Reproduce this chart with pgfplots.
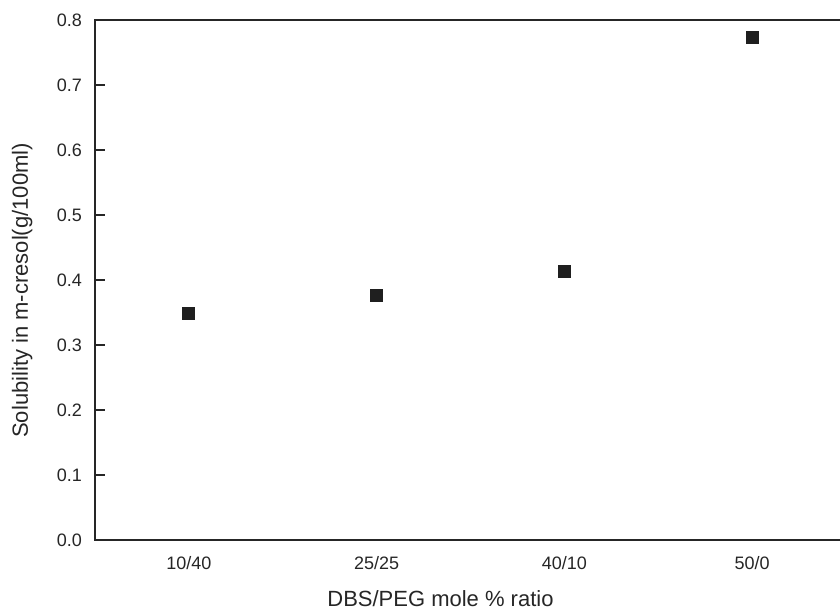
\documentclass[border=0pt]{standalone}
\usepackage{fontspec}
\setmainfont{Liberation Sans}
\usepackage{pgfplots}
\pgfplotsset{compat=1.18}

\begin{document}
\begin{tikzpicture}
\begin{axis}[
  name=ax,
  scale only axis,
  width=375.5pt, height=260pt,
  xmin=0.5, xmax=4.5,
  ymin=0, ymax=0.8,
  axis line style={line width=1pt, black!85},
  xtick={1,2,3,4},
  xticklabels={10/40,25/25,40/10,50/0},
  xtick style={draw=none},
  ytick={0,0.1,...,0.8},
  ytick pos=left,
  tick align=inside,
  major tick length=5pt,
  ytick style={draw=none},
  yticklabel style={xshift=-3pt, /pgf/number format/fixed, /pgf/number format/fixed zerofill, /pgf/number format/precision=1},
  /pgf/number format/assume math mode=true,
  tick label style={font=\fontsize{9}{10}\selectfont, black!85},
  xticklabel style={yshift=-4.5pt},
  xlabel={DBS/PEG mole \% ratio},
  ylabel={Solubility in m-cresol(g/100ml)},
  label style={font=\fontsize{11}{12}\selectfont, black!85},
  xlabel style={at={(axis description cs:0.46,-0.112)}, anchor=center},
  ylabel style={at={(axis description cs:-0.097,0.48)}, anchor=center},
  clip=false,
]
\addplot[only marks, mark=square*, mark size=3pt, color=black!88]
  coordinates {(1,0.349) (2,0.377) (3,0.413) (4,0.774)};
% inward ticks on the left axis
\pgfplotsinvokeforeach{0,0.1,0.2,0.3,0.4,0.5,0.6,0.7,0.8}{
  \draw[line width=1pt, black!85] (axis cs:0.5,#1) -- (axis cs:0.553,#1);
}
\coordinate (bl) at (rel axis cs:-0.1265,-0.1327);
\coordinate (tr) at (rel axis cs:0.992,1.0385);
\end{axis}
\pgfresetboundingbox
\path (bl) rectangle (tr);
\end{tikzpicture}
\end{document}
